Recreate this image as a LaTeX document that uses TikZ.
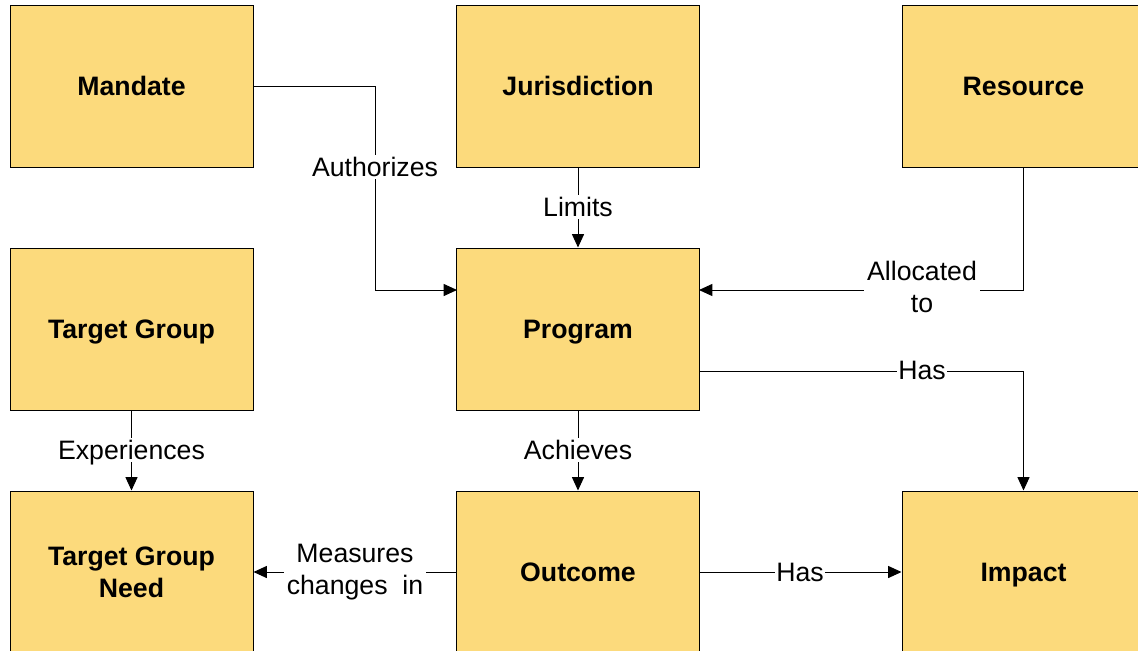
\documentclass[tikz,border=0pt]{standalone}
\usepackage{fontspec}
\setmainfont{Liberation Sans}
\usetikzlibrary{arrows.meta}
\definecolor{boxfill}{RGB}{252,218,124}
\tikzset{
  box/.style={draw=black, line width=0.75pt, fill=boxfill, minimum width=182.25pt, minimum height=121.5pt, inner sep=0pt, align=center, font=\fontsize{20}{24}\selectfont\bfseries},
  onebox/.style={box, text height=14.5pt, text depth=0pt},
  conn/.style={draw=black, line width=0.75pt},
  arr/.style={conn, -{Triangle[length=10pt,width=9pt]}},
  lbl/.style={fill=white, inner sep=2pt, align=center, font=\fontsize{20}{24.5}\selectfont},
  onelbl/.style={lbl, text height=14.5pt, text depth=0pt}
}
\begin{document}
\begin{tikzpicture}[x=0.75pt,y=-0.75pt]
\useasboundingbox (0,0) rectangle (1138,650);
\clip (0,0) rectangle (1138,650);
\node[onebox] (mandate) at (131.5,86) {Mandate};
\node[onebox] (jurisdiction) at (578,86) {Jurisdiction};
\node[onebox] (resource) at (1023.5,86) {Resource};
\node[onebox] (tg) at (131.5,329) {Target Group};
\node[onebox] (program) at (578,329) {Program};
\node[box] (tgn) at (131.5,572) {Target Group\\Need};
\node[onebox] (outcome) at (578,572) {Outcome};
\node[onebox] (impact) at (1023.5,572) {Impact};

\coordinate (m1) at (375,86);
\coordinate (m2) at (375,290);
\coordinate (pw) at (457,290);
\coordinate (r1) at (1023.5,290);
\coordinate (pe) at (699,290);
\coordinate (ph) at (699,371);
\coordinate (h1) at (1023.5,371);

\draw[arr] (mandate.east) -- (m1) -- (m2) -- (pw);
\node[onelbl] at (375,167) {Authorizes};
\draw[arr] (jurisdiction.south) -- (program.north);
\node[onelbl] at (578,207) {Limits};
\draw[arr] (resource.south) -- (r1) -- (pe);
\node[lbl] at (922,287) {Allocated\\to};
\draw[arr] (ph) -- (h1) -- (impact.north);
\node[onelbl, inner sep=1pt] at (922,370) {Has};
\draw[arr] (tg.south) -- (tgn.north);
\node[onelbl] at (131.5,450) {Experiences};
\draw[arr] (program.south) -- (outcome.north);
\node[onelbl] at (578,450) {Achieves};
\draw[arr] (outcome.west) -- (tgn.east);
\node[lbl] at (355,572) {Measures\\changes\ \ in};
\draw[arr] (outcome.east) -- (impact.west);
\node[onelbl, inner sep=1pt] at (800,572) {Has};
\end{tikzpicture}
\end{document}
